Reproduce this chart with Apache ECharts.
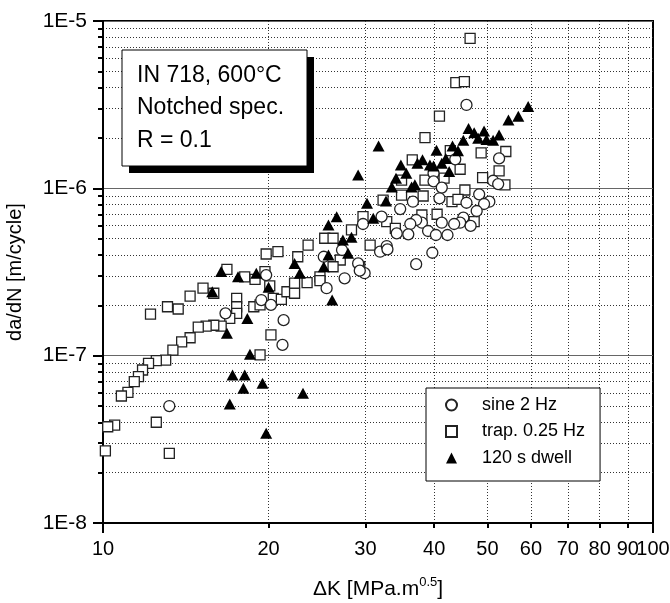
<!DOCTYPE html>
<html><head><meta charset="utf-8">
<script src="https://cdn.jsdelivr.net/npm/echarts@6.0.0/dist/echarts.min.js"></script>
<style>html,body{margin:0;padding:0;background:#fff}#c{width:670px;height:603px}</style>
</head><body><div id="c"></div>
<script>
// sine 2 Hz (open circles)
const sineX = [32.1,29.7,27.2,31.9,25.2,29.1,29.9,19.8,27.5,29.3,25.5,19.4,20.2,16.7,21.3,21.2,13.2,
  45.8,52.5,43.7,39.9,39.9,51.2,52.3,41.3,40.9,36.6,34.7,48.3,50.4,49.3,45.8,47.8,45.2,44.6,43.5,46.6,
  41.3,38.0,37.1,36.2,39.0,40.3,42.3,34.2,35.9,32.8,32.9,39.7,37.1];
const sineY = [6.77e-7,6.12e-7,4.28e-7,4.18e-7,3.90e-7,3.56e-7,3.11e-7,3.03e-7,2.90e-7,3.22e-7,2.53e-7,2.15e-7,2.01e-7,1.79e-7,1.63e-7,1.16e-7,5.0e-8,
  3.15e-6,1.51e-6,1.49e-6,1.23e-6,1.10e-6,1.11e-6,1.06e-6,1.01e-6,8.72e-7,8.32e-7,7.52e-7,9.21e-7,8.32e-7,8.06e-7,8.2e-7,7.32e-7,6.68e-7,6.23e-7,6.12e-7,5.96e-7,
  6.23e-7,6.23e-7,6.47e-7,6.12e-7,5.56e-7,5.26e-7,5.26e-7,5.38e-7,5.31e-7,4.52e-7,4.32e-7,4.12e-7,3.52e-7];

// trap. 0.25 Hz (open squares)
const trapX = [29.7,28.3,25.3,26.2,23.6,19.8,20.8,22.6,27.0,26.2,29.3,30.6,16.8,18.1,19.7,24.8,
  18.9,20.1,15.2,15.9,14.4,13.1,13.7,12.2,17.5,17.5,17.5,18.8,19.3,20.4,21.1,21.6,22.3,22.3,23.5,24.8,
  17.0,16.4,15.9,15.4,14.9,14.4,13.9,13.4,13.0,12.5,12.1,11.8,11.6,11.4,11.1,10.8,20.2,19.3,12.5,10.5,10.2,10.1,13.2,
  46.5,43.8,45.4,40.9,38.5,36.5,42.8,48.7,54.0,44.6,52.5,49.0,53.8,38.5,41.7,34.9,45.5,34.9,38.2,43.1,44.2,32.3,38.0,40.5,47.3,32.8,34.0];
const trapY = [6.77e-7,5.64e-7,5.03e-7,5.03e-7,4.58e-7,4.05e-7,4.18e-7,3.90e-7,3.73e-7,3.40e-7,3.40e-7,4.58e-7,3.28e-7,2.96e-7,3.18e-7,2.96e-7,
  2.86e-7,2.61e-7,2.53e-7,2.36e-7,2.27e-7,1.96e-7,1.90e-7,1.77e-7,2.20e-7,1.96e-7,1.79e-7,1.96e-7,2.01e-7,2.20e-7,2.17e-7,2.41e-7,2.36e-7,2.71e-7,2.73e-7,2.81e-7,
  1.67e-7,1.50e-7,1.52e-7,1.50e-7,1.48e-7,1.28e-7,1.21e-7,1.08e-7,9.4e-8,9.33e-8,9.0e-8,8.21e-8,7.49e-8,6.99e-8,6.04e-8,5.74e-8,1.33e-7,1.01e-7,4.0e-8,3.85e-8,3.76e-8,2.70e-8,2.61e-8,
  7.88e-6,4.28e-6,4.34e-6,2.70e-6,2.01e-6,1.48e-6,1.68e-6,1.63e-6,1.66e-6,1.30e-6,1.27e-6,1.16e-6,1.05e-6,1.12e-6,1.15e-6,1.12e-6,9.77e-7,9.12e-7,9.0e-7,8.32e-7,8.60e-7,8.51e-7,6.93e-7,7.0e-7,6.32e-7,6.32e-7,5.77e-7];

// 120 s dwell (filled triangles)
const dwellX = [31.7,29.1,30.2,26.6,25.7,31.0,27.3,28.3,25.7,27.9,25.2,16.4,17.6,19.0,22.3,22.8,15.8,20.0,26.1,18.3,16.8,18.5,17.2,18.1,18.0,19.5,23.1,17.0,19.8,
  59.3,56.9,54.6,46.2,47.3,49.3,48.1,49.8,51.2,52.5,45.2,43.2,44.2,40.4,42.0,41.3,38.1,37.3,39.3,39.9,34.8,35.6,34.1,42.6,33.5,36.4,36.9,32.7];
const dwellY = [1.79e-6,1.20e-6,8.14e-7,6.77e-7,6.04e-7,6.62e-7,4.91e-7,5.10e-7,4.0e-7,4.09e-7,3.40e-7,3.18e-7,2.96e-7,3.11e-7,3.56e-7,3.11e-7,2.41e-7,2.56e-7,2.15e-7,1.67e-7,1.36e-7,1.02e-7,7.66e-8,7.66e-8,6.38e-8,6.84e-8,5.96e-8,5.14e-8,3.44e-8,
  3.08e-6,2.70e-6,2.56e-6,2.28e-6,2.15e-6,2.20e-6,1.99e-6,1.96e-6,1.94e-6,2.08e-6,1.94e-6,1.79e-6,1.68e-6,1.69e-6,1.51e-6,1.41e-6,1.48e-6,1.41e-6,1.38e-6,1.36e-6,1.38e-6,1.23e-6,1.15e-6,1.26e-6,1.02e-6,1.02e-6,1.05e-6,8.40e-7];

const seriesNames = ['sine 2 Hz', 'trap. 0.25 Hz', '120 s dwell'];
const xLabelValues = [10, 20, 30, 40, 50, 60, 70, 80, 90];
const xEndLabel = [100];
const xMajorTicks = [10, 100];
const xMinorTicks = [20, 30, 40, 50, 60, 70, 80, 90];
const yMinorTicks = [2e-8,3e-8,4e-8,5e-8,6e-8,7e-8,8e-8,9e-8,
  2e-7,3e-7,4e-7,5e-7,6e-7,7e-7,8e-7,9e-7,
  2e-6,3e-6,4e-6,5e-6,6e-6,7e-6,8e-6,9e-6];
const annotationLines = ['IN 718, 600°C', 'Notched spec.', 'R = 0.1'];

const FONT = 'Liberation Sans, Arial, sans-serif';
const pair = (xs, ys) => xs.map((x, i) => [x, ys[i]]);

const chart = echarts.init(document.getElementById('c'), null, {renderer: 'canvas'});
const dotted = {type: [1, 2], color: '#333', width: 1};
const xLabelStyle = {fontSize: 20, color: '#000', margin: 16, fontFamily: FONT,
  showMinLabel: true, showMaxLabel: true, hideOverlap: false};

chart.setOption({
  animation: false,
  backgroundColor: '#fff',
  textStyle: {fontFamily: FONT},
  grid: {left: 103, right: 17, top: 21, bottom: 80, show: true, borderColor: '#000', borderWidth: 2,
    backgroundColor: 'transparent', containLabel: false, outerBoundsMode: 'none'},
  xAxis: [{
    type: 'log', logBase: 10, min: 10, max: 100, position: 'bottom',
    axisLine: {lineStyle: {color: '#000', width: 2}},
    axisTick: {customValues: xMajorTicks, length: 10, lineStyle: {color: '#000', width: 2}},
    axisLabel: Object.assign({customValues: xLabelValues}, xLabelStyle),
    splitLine: {show: false},
    name: '{a|ΔK [MPa.m}{b|0.5}{a|]}', nameLocation: 'middle', nameGap: 53,
    nameTextStyle: {rich: {a: {fontSize: 21, color: '#000', fontFamily: FONT}, b: {fontSize: 13, color: '#000', fontFamily: FONT, padding: [0, 0, 14, 0]}}}
  }, {
    type: 'log', logBase: 10, min: 10, max: 100, position: 'bottom',
    axisLine: {show: false},
    axisTick: {customValues: xMinorTicks, length: 5, lineStyle: {color: '#000', width: 2}},
    axisLabel: Object.assign({customValues: xEndLabel}, xLabelStyle),
    splitLine: {show: true, lineStyle: dotted}
  }],
  yAxis: [{
    type: 'log', logBase: 10, min: 1e-8, max: 1e-5, position: 'left',
    axisLine: {lineStyle: {color: '#000', width: 2}},
    axisTick: {length: 10, lineStyle: {color: '#000', width: 2}},
    axisLabel: {fontSize: 21, color: '#000', margin: 16, fontFamily: FONT,
      formatter: v => '1E' + Math.round(Math.log10(v))},
    splitLine: {show: true, lineStyle: {color: '#666', width: 1}},
    name: 'da/dN [m/cycle]', nameLocation: 'middle', nameGap: 78,
    nameTextStyle: {fontSize: 20, color: '#000', fontFamily: FONT}
  }, {
    type: 'log', logBase: 10, min: 1e-8, max: 1e-5, position: 'left',
    axisLine: {show: false},
    axisTick: {customValues: yMinorTicks, length: 5, lineStyle: {color: '#000', width: 2}},
    axisLabel: {show: false},
    splitLine: {show: true, lineStyle: dotted}
  }],
  legend: {
    data: seriesNames, orient: 'vertical', left: 426, top: 388,
    padding: [8, 15, 14, 19], itemGap: 8.5, itemWidth: 11, itemHeight: 11,
    backgroundColor: '#fff', borderColor: '#000', borderWidth: 1, borderRadius: 0,
    selectedMode: false,
    textStyle: {fontSize: 18, color: '#000', fontFamily: FONT, padding: [0, 0, 0, 20]}
  },
  graphic: [{
    type: 'rect', shape: {x: 129, y: 57, width: 185, height: 116}, style: {fill: '#000'}, z: 100
  }, {
    type: 'rect', shape: {x: 122, y: 50, width: 185, height: 116}, style: {fill: '#fff', stroke: '#000', lineWidth: 1}, z: 101
  }, {
    type: 'text', x: 137, y: 59, z: 102,
    style: {text: annotationLines.join('\n'), font: '23px ' + FONT, fill: '#000', lineHeight: 32.5, verticalAlign: 'top'}
  }],
  series: [{
    name: seriesNames[1], type: 'scatter', xAxisIndex: 0, yAxisIndex: 0,
    symbol: 'rect', symbolSize: 10, z: 2,
    itemStyle: {color: '#fff', borderColor: '#222', borderWidth: 1.3, opacity: 1},
    emphasis: {disabled: true},
    data: pair(trapX, trapY)
  }, {
    name: seriesNames[0], type: 'scatter', xAxisIndex: 0, yAxisIndex: 0,
    symbol: 'circle', symbolSize: 11, z: 3,
    itemStyle: {color: '#fff', borderColor: '#222', borderWidth: 1.3, opacity: 1},
    emphasis: {disabled: true},
    data: pair(sineX, sineY)
  }, {
    name: seriesNames[2], type: 'scatter', xAxisIndex: 0, yAxisIndex: 0,
    symbol: 'triangle', symbolSize: [12, 11], z: 4,
    itemStyle: {color: '#000', opacity: 1},
    emphasis: {disabled: true},
    data: pair(dwellX, dwellY)
  }]
});
</script>
</body></html>
